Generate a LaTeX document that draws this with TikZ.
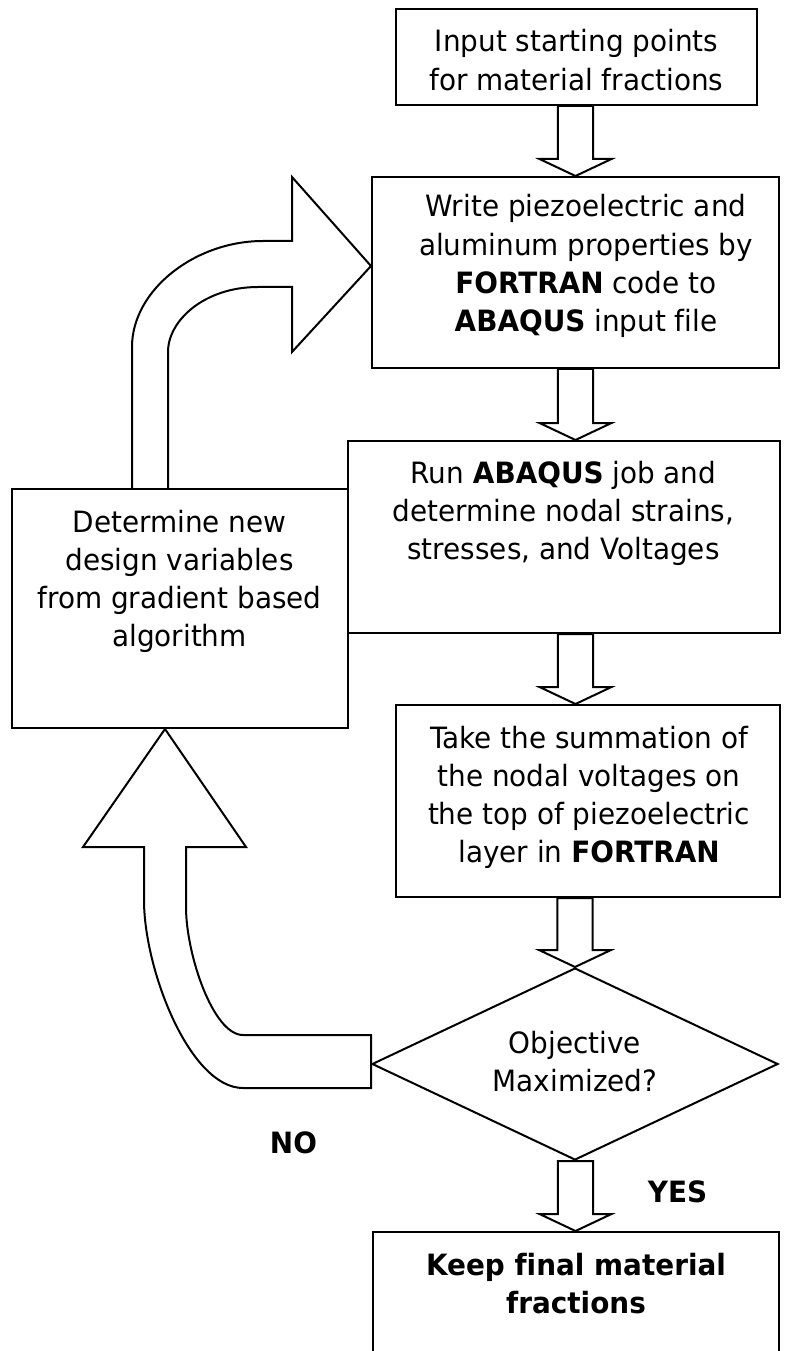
\documentclass[tikz,border=0pt]{standalone}
\usepackage{fontspec}
\setmainfont{DejaVu Sans}[FakeStretch=0.95, Ligatures=NoCommon]
\usetikzlibrary{shapes.geometric,calc}

% stacked, centred lines whose base anchor is the first baseline
\newcommand\stack[1]{\begin{tabular}[t]{@{}c@{}}#1\end{tabular}}

% hollow block arrow pointing down, from an edge to a tip point
\newcommand\blockarrow[2]{%
  \draw[blk] let \p1=(#1), \p2=(#2) in
    (\x2-13.3pt,\y1) -- (\x2-13.3pt,\y2+12.75pt) -- (\x2-27pt,\y2+12.75pt)
    -- (\x2,\y2) -- (\x2+27pt,\y2+12.75pt) -- (\x2+13.3pt,\y2+12.75pt)
    -- (\x2+13.3pt,\y1) -- cycle;}

\tikzset{
  box/.style={draw, line width=1.5pt, inner sep=0pt, fill=white},
  blk/.style={draw, line width=1.5pt, line join=miter},
  txt/.style={inner sep=0pt, anchor=base,
    font=\fontsize{22pt}{28.7pt}\selectfont},
}

\begin{document}
\begin{tikzpicture}[x=0.75pt, y=-0.75pt]
\useasboundingbox (0,0) rectangle (796,1351);
\fill[white] (0,0) rectangle (796,1351);
\clip (0,0) rectangle (796,1351);

% process boxes
\node[box, minimum width=270.75pt, minimum height=72pt]     (b1) at (576.5,57)  {};
\node[box, minimum width=305.25pt, minimum height=143.25pt] (b2) at (575.5,272.5) {};
\node[box, minimum width=324pt,    minimum height=144pt]    (b3) at (564,537)   {};
\node[box, minimum width=252pt,    minimum height=179.25pt] (bL) at (180,608.5) {};
\node[box, minimum width=288pt,    minimum height=144pt]    (b4) at (588,801)   {};
\node[box, shape=diamond, minimum width=304.5pt, minimum height=144pt] (d) at (575,1064) {};
\node[box, minimum width=304.5pt,  minimum height=111pt]    (b5) at (576,1306)  {};

% texts
\node[txt] (t1) at (576.5,52) {\stack{Input starting points\\for material fractions}};
\node[txt] (t2) at (586,217) {\stack{Write piezoelectric and\\aluminum properties by\\\textbf{FORTRAN} code to\\\textbf{ABAQUS} input file}};
\node[txt] (t3) at (563.5,483) {\stack{Run \textbf{ABAQUS} job and\\determine nodal strains,\\stresses, and Voltages}};
\node[txt] (tL) at (179.5,532) {\stack{Determine new\\design variables\\from gradient based\\algorithm}};
\node[txt] (t4) at (589,748) {\stack{Take the summation of\\the nodal voltages on\\the top of piezoelectric\\layer in \textbf{FORTRAN}}};
\node[txt] (td) at (575,1053) {\stack{Objective\\Maximized?}};
\node[txt] (t5) at (576,1275) {\stack{\textbf{Keep final material}\\\textbf{fractions}}};
\node[txt] (no)  at (293.5,1153) {\textbf{NO}};
\node[txt] (yes) at (677.5,1202) {\textbf{YES}};

% straight block arrows
\blockarrow{b1.south}{575.5,0 |- b2.north}
\blockarrow{b2.south}{575.5,0 |- b3.north}
\blockarrow{b3.south}{575.5,0 |- b4.north}
\blockarrow{b4.south}{d.north}
\blockarrow{d.south}{575.5,0 |- b5.north}

% curved block arrow: new design variables back to the input file step
\draw[blk] (132,0 |- bL.north) -- (132,347)
  .. controls (132,290) and (195,241) .. (263,241) -- (292,241) -- (292,177)
  -- (b2.west |- 0,266) -- (292,352) -- (292,287) -- (258,287)
  .. controls (205,287) and (168,320) .. (168,352) -- (168,0 |- bL.north);

% curved block arrow: NO branch up to the design update
\draw[blk] (d.west |- 0,1035) -- (243,1035)
  .. controls (213,1035) and (186,954) .. (186,907) -- (186,847) -- (246,847)
  -- (165,0 |- bL.south) -- (83,847) -- (144,847) -- (144,900)
  .. controls (144,970) and (190,1088) .. (243,1088)
  -- (d.west |- 0,1088) -- cycle;
\end{tikzpicture}
\end{document}
